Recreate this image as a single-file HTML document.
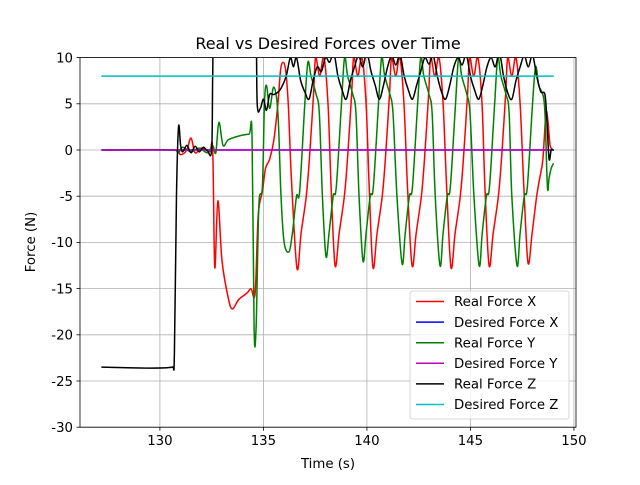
<!DOCTYPE html>
<html><head><meta charset="utf-8"><style>
body{margin:0;background:#fff;}
svg{font-family:"DejaVu Sans","Liberation Sans",sans-serif;}
</style></head><body>
<svg id="chart" width="640" height="480" xmlns="http://www.w3.org/2000/svg">
<rect width="640" height="480" fill="#fff"/>
<defs><clipPath id="clip"><rect x="80" y="57.6" width="496" height="369.6"/></clipPath></defs>
<g id="grid"></g>
<g id="series" clip-path="url(#clip)"></g>
<rect x="80" y="57.6" width="496" height="369.6" fill="none" stroke="#000" stroke-width="0.8"/>
<g id="ticks"></g>
<text x="328" y="49" font-size="16" text-anchor="middle">Real vs Desired Forces over Time</text>
<text x="328" y="468" font-size="13.3" text-anchor="middle">Time (s)</text>
<text x="35" y="242" font-size="13.3" text-anchor="middle" transform="rotate(-90 35 242)">Force (N)</text>
<g id="legend"></g>
</svg>
<script>
const xTicks=[130,135,140,145,150];
const yTicks=[-30,-25,-20,-15,-10,-5,0,5,10];
const seriesNames=["Real Force X","Desired Force X","Real Force Y","Desired Force Y","Real Force Z","Desired Force Z"];
const seriesColors=["#ff0000","#0000ff","#008000","#bf00bf","#000000","#00bfbf"];
const desiredX=[[127.2,0],[149.0,0]];
const desiredY=[[127.2,0],[149.0,0]];
const desiredZ=[[127.2,8],[149.0,8]];
const realX=[[127.2,0],[130.7,0],[131.0,-0.5],[131.3,0],[131.5,1.3],[131.7,-0.3],[132.0,0.2],[132.4,-0.2],[132.55,0],[132.65,-12.7],[132.8,-5.5],[133.0,-12],[133.3,-16],[133.5,-17.2],[133.8,-16.2],[134.2,-15.5],[134.4,-15],[134.6,-15.5],[134.75,-7],[134.95,-4.5],[135.1,-2],[135.3,-1],[135.5,1],[135.7,5],[135.85,9],[136.05,9],[136.2,5],[136.35,-3],
[136.62,-12.8],[136.82,-9],[137.07,-5],[137.22,-1],[137.42,6],[137.52,10],[137.72,8],[137.92,10],[138.12,5],[138.27,-4],
[138.46,-12.5],[138.66,-9],[138.91,-5],[139.06,-1],[139.26,6],[139.36,10],[139.56,8],[139.76,10],[139.96,5],[140.11,-4],
[140.29,-12.7],[140.49,-9],[140.74,-5],[140.89,-1],[141.09,6],[141.19,10],[141.39,8],[141.59,10],[141.79,5],[141.96,-4],
[142.18,-12.5],[142.38,-9],[142.63,-5],[142.78,-1],[142.98,6],[143.08,10],[143.28,8],[143.48,10],[143.68,5],[143.85,-4],
[144.06,-12.7],[144.26,-9],[144.51,-5],[144.66,-1],[144.86,6],[144.96,10],[145.16,8],[145.36,10],[145.56,5],[145.7,-4],
[145.90,-12.5],[146.1,-9],[146.35,-5],[146.5,-1],[146.7,6],[146.8,10],[147.0,8],[147.2,10],[147.4,5],[147.58,-4],
[147.78,-12.2],[147.98,-9],[148.2,-5],[148.35,-3],[148.5,-1],[148.65,4],[148.75,3],[148.85,0.5],[149.0,0]];
const realY=[[127.2,0],[130.7,0],[130.9,-0.3],[131.1,0.3],[131.5,-0.2],[131.9,0.2],[132.3,-0.3],[132.55,0.5],[132.7,-0.3],[132.85,3],[133.05,0.5],[133.3,1.1],[133.8,1.5],[134.3,1.7],[134.45,1.5],[134.55,-19.3],[134.65,-19],[134.78,-6],[134.95,-4],[135.05,5],[135.15,7],[135.3,4.5],[135.5,6.8],[135.7,4],[135.85,-5],[136.0,-10],
[136.24,-11],[136.4,-9],[136.6,-5],[136.75,-4.5],[137.0,5],[137.15,9.5],[137.3,8],[137.55,6],[137.7,4],[137.85,-5],
[138.02,-11.5],[138.17,-9],[138.37,-5],[138.52,-4],[138.77,5],[138.92,10],[139.07,8],[139.32,6],[139.47,4],[139.62,-5],
[139.81,-12],[139.96,-9],[140.16,-5],[140.31,-4],[140.56,5],[140.71,10],[140.86,8],[141.11,6],[141.26,4],[141.45,-5],
[141.70,-12.3],[141.85,-9],[142.05,-5],[142.2,-4],[142.45,5],[142.6,10],[142.75,8],[143.0,6],[143.15,4],[143.3,-5],
[143.53,-12.5],[143.68,-9],[143.88,-5],[144.03,-4],[144.28,5],[144.43,10],[144.58,8],[144.83,6],[144.98,4],[145.17,-5],
[145.42,-12.5],[145.57,-9],[145.77,-5],[145.92,-4],[146.17,5],[146.32,10],[146.47,8],[146.72,6],[146.87,4],[147.0,-5],
[147.25,-12.5],[147.4,-9],[147.6,-5],[147.75,-4],[148.0,5],[148.15,9],[148.3,7],[148.5,6],[148.6,4],[148.72,-4],[148.8,-3],[148.9,-2],[149.0,-1.5]];
const realZ=[[127.2,-23.5],[130.6,-23.5],[130.7,-22],[130.8,-5],[130.9,2.5],[131.0,0.5],[131.1,-0.2],[131.3,0.5],[131.5,-0.3],[131.7,0.4],[131.9,-0.2],[132.1,0.3],[132.3,-0.1],[132.5,0],[132.55,8],[132.62,14],[134.6,14],[134.7,5],[134.85,4.5],[135.0,5.5],[135.15,4.3],[135.3,6],[135.5,6],[135.8,6.5],[136.1,8],[136.3,10],[136.45,9],[136.6,10],[136.8,7.5],[137.0,6.3],[137.2,5.5],[137.4,7.5],[137.6,9],[137.8,8.5],[138.0,10],[138.2,9.5],[138.4,10.5],[138.6,8],[138.8,6.5],[139.0,5.5],[139.2,7.5],[139.4,9],[139.6,10.2],[139.8,9],[140.0,10.5],[140.2,8.5],[140.4,7],[140.6,5.5],[140.8,7],[141.0,9],[141.2,10.2],[141.4,9.2],[141.6,10.3],[141.8,8],[142.0,6.5],[142.2,5.5],[142.4,7],[142.6,8.5],[142.8,10],[143.0,9.3],[143.2,10.2],[143.4,8],[143.6,6.3],[143.8,5.5],[144.0,7],[144.2,9],[144.4,10],[144.6,9.2],[144.8,10.3],[145.0,8],[145.2,6.5],[145.4,5.5],[145.6,7],[145.8,9],[146.0,10],[146.2,9],[146.4,10.5],[146.6,8],[146.8,6.2],[147.0,5.5],[147.2,7.5],[147.4,9],[147.6,10.2],[147.8,9],[148.0,10.3],[148.2,8],[148.4,6.3],[148.6,6],[148.7,3],[148.8,-1],[148.9,0],[149.0,0]];

const X0=126.14,X1=150.1,Y0=-30,Y1=10;
const L=80,R=576,T=57.6,B=427.2;
function sx(v){return L+(v-X0)/(X1-X0)*(R-L);}
function sy(v){return B-(v-Y0)/(Y1-Y0)*(B-T);}
const NS="http://www.w3.org/2000/svg";
function mk(tag,attrs,parent){const e=document.createElementNS(NS,tag);for(const k in attrs)e.setAttribute(k,attrs[k]);parent.appendChild(e);return e;}
function smoothPath(d){
  const p=d.map(q=>[sx(q[0]),sy(q[1])]);
  let s='M'+p[0][0].toFixed(2)+','+p[0][1].toFixed(2);
  for(let i=0;i<p.length-1;i++){
    const p0=p[Math.max(0,i-1)],p1=p[i],p2=p[i+1],p3=p[Math.min(p.length-1,i+2)];
    const k=0.5/3;
    const c1=[p1[0]+(p2[0]-p0[0])*k,p1[1]+(p2[1]-p0[1])*k];
    const c2=[p2[0]-(p3[0]-p1[0])*k,p2[1]-(p3[1]-p1[1])*k];
    c1[0]=Math.min(Math.max(c1[0],p1[0]),p2[0]);
    c2[0]=Math.min(Math.max(c2[0],p1[0]),p2[0]);
    s+=' C'+c1[0].toFixed(2)+','+c1[1].toFixed(2)+' '+c2[0].toFixed(2)+','+c2[1].toFixed(2)+' '+p2[0].toFixed(2)+','+p2[1].toFixed(2);
  }
  return s;
}
const grid=document.getElementById('grid'),ticks=document.getElementById('ticks');
xTicks.forEach(t=>{
  const x=sx(t);
  const g=mk('line',{x1:x,x2:x,y1:T,y2:B,stroke:'#b0b0b0','stroke-width':0.8},grid);
  
  
  const tk=mk('line',{x1:x,x2:x,y1:B,y2:B+3.5,stroke:'#000','stroke-width':0.8},ticks);
  
  
  const lb=mk('text',{x:x,y:B+18,'font-size':13.3,'text-anchor':'middle'},ticks);
  lb.textContent=t;
  
  
});
yTicks.forEach(t=>{
  const y=sy(t);
  const g=mk('line',{x1:L,x2:R,y1:y,y2:y,stroke:'#b0b0b0','stroke-width':0.8},grid);
  
  
  const tk=mk('line',{x1:L-3.5,x2:L,y1:y,y2:y,stroke:'#000','stroke-width':0.8},ticks);
  
  
  const lb=mk('text',{x:L-7,y:y+4.8,'font-size':13.3,'text-anchor':'end'},ticks);
  lb.textContent=t;
  
  
});
const data=[realX,desiredX,realY,desiredY,realZ,desiredZ];
const sg=document.getElementById('series');
data.forEach((d,i)=>{
  const p=mk('path',{d:smoothPath(d),fill:'none',stroke:seriesColors[i],'stroke-width':1.5,'stroke-linejoin':'round','stroke-linecap':'round'},sg);
  
  
});
const lg=document.getElementById('legend');
const box=mk('rect',{x:410,y:291,width:159,height:128,rx:2.5,fill:'#fff','fill-opacity':0.8,stroke:'#cccccc','stroke-width':0.8},lg);


seriesNames.forEach((n,i)=>{
  const y=301.5+i*20.6;
  const ln=mk('line',{x1:416,x2:444,y1:y,y2:y,stroke:seriesColors[i],'stroke-width':1.5},lg);
  
  
  const tx=mk('text',{x:454,y:y+4.7,'font-size':13.3},lg);
  tx.textContent=n;
  
  
});
</script>
</body></html>
